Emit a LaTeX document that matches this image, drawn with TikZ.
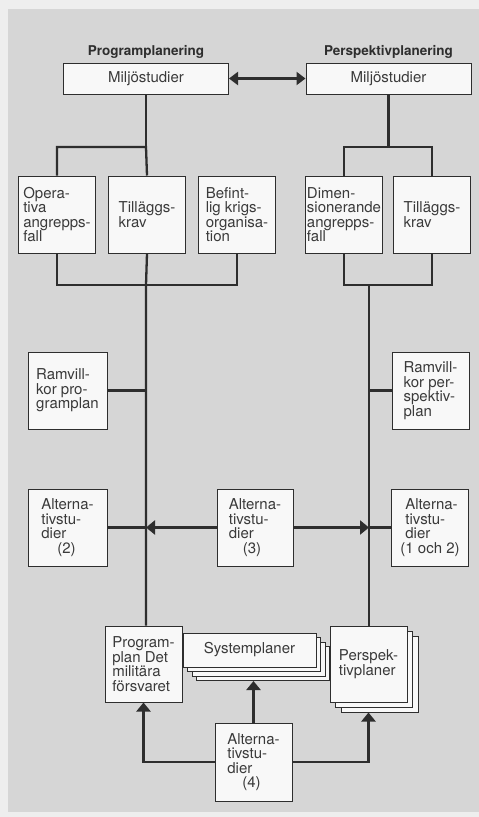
\documentclass[tikz,border=0pt]{standalone}
\usepackage{fontspec}
\setmainfont{TeX Gyre Heros}
\usetikzlibrary{arrows.meta, positioning}
\definecolor{pageBg}{HTML}{EEEEEE}
\definecolor{panelBg}{HTML}{D6D6D6}
\definecolor{boxFill}{HTML}{F8F8F8}
\definecolor{inkDark}{HTML}{2E2E2E}
\definecolor{inkText}{HTML}{3A3A3A}

\begin{document}
\begin{tikzpicture}[
    x=1pt, y=-1pt,
    node distance=12pt,
    box/.style={draw=inkDark, line width=1pt, fill=boxFill, text=inkText,
                minimum width=77pt, minimum height=77pt, inner sep=0pt,
                font=\fontsize{15}{14.5}\selectfont, align=left},
    widebox/.style={box, minimum width=165pt, minimum height=31pt},
    heading/.style={font=\fontsize{13.5}{14}\selectfont\bfseries,
                    text=inkDark, anchor=base},
    link/.style={draw=inkDark, line width=2.3pt},
    arrow/.style={link, -{Triangle[width=14pt,length=9pt]}},
    darrow/.style={link, {Triangle[width=13pt,length=9pt]}-{Triangle[width=13pt,length=9pt]}},
]
% Page and panel
\useasboundingbox (0,0) rectangle (479,817);
\fill[pageBg] (0,0) rectangle (479,817);
\fill[panelBg] (8,9) rectangle (479,812);

% Headings and environment studies
\node[heading] (headProg) at (146,55) {Programplanering};
\node[heading] (headPersp) at (388.5,55) {Perspektivplanering};
\node[widebox] (miljoProg) at (146,78.5) {Miljöstudier};
\node[widebox] (miljoPersp) at (388.5,78.5) {Miljöstudier};

% Input row
\node[box] (operativa) at (57,214.5) {Opera-\\tiva\\angrepps-\\fall};
\node[box, right=of operativa] (tillProg) {Tilläggs-\\krav};
\node[box, right=of tillProg] (befintlig) {Befint-\\lig krigs-\\organisa-\\tion};
\node[box] (dimens) at (344,214.5) {Dimen-\\sionerande\\angrepps-\\fall};
\node[box, right=10pt of dimens] (tillPersp) {Tilläggs-\\krav};

% Frame conditions
\node[box, minimum width=79pt] (ramProg) at (67.5,390.5) {Ramvill-\\kor pro-\\gramplan};
\node[box] (ramPersp) at (430.5,390.5) {Ramvill-\\kor per-\\spektiv-\\plan};

% Alternative studies
\node[box, minimum width=79pt] (alt2) at (67.5,527.5) {Alterna-\\tivstu-\\dier\\\hspace*{16pt}(2)};
\node[box, minimum width=76pt] (alt3) at (255,527.5) {Alterna-\\tivstu-\\dier\\\hspace*{14pt}(3)};
\node[box] (alt12) at (430,527.5) {\hspace*{5pt}Alterna-\\\hspace*{5pt}tivstu-\\\hspace*{5pt}dier\\(1 och 2)};

% Plans
\foreach \k in {3,2,1}
  \node[box, minimum width=133pt, minimum height=34pt] (sys\k) at (249.5+4.5*\k, 650+4.5*\k) {};
\node[box, minimum width=133pt, minimum height=34pt] (sys) at (249.5,650) {Systemplaner};
\foreach \k in {2,1}
  \node[box, minimum height=76pt] (persp\k) at (368.5+5.5*\k, 664+5*\k) {};
\node[box, minimum height=76pt] (persp) at (368.5,664) {Perspek-\\tivplaner};
\node[box, minimum height=76pt] (progplan) at (143.5,664) {Program-\\plan Det\\militära\\försvaret};
\node[box, minimum height=78pt] (alt4) at (253.5,762) {Alterna-\\tivstu-\\dier\\\hspace*{15pt}(4)};

% Junctions
\coordinate (topProg) at (146,147);
\coordinate (botProg) at (146,285);
\coordinate (topPersp) at (388.5,147);
\coordinate (botPersp) at (369,285);

% Connectors
\draw[darrow] (miljoProg.east) -- (miljoPersp.west);
\draw[link] (miljoProg.south) -- (topProg);
\draw[link] (operativa.north) |- (topProg) -- (tillProg.north);
\draw[link] (miljoPersp.south) -- (topPersp);
\draw[link] (dimens.north) |- (topPersp) -| (tillPersp.north);
\draw[link] (operativa.south) |- (botProg) -| (befintlig.south);
\draw[link] (tillProg.south) -- (botProg) -- (botProg |- progplan.north);
\draw[link] (dimens.south) |- (botPersp) -| (tillPersp.south);
\draw[link] (botPersp) -- (botPersp |- persp.north);
\draw[link] (ramProg.east) -- (ramProg.east -| botProg);
\draw[link] (ramPersp.west) -- (ramPersp.west -| botPersp);
\draw[link] (alt2.east) -- (alt2.east -| botProg);
\draw[arrow] (alt3.west) -- (alt3.west -| botProg);
\draw[arrow] (alt3.east) -- (alt3.east -| botPersp);
\draw[link] (alt12.west) -- (alt12.west -| botPersp);
\draw[arrow] (alt4.west) -| (progplan.south);
\draw[arrow] (alt4.north) -- (alt4.north |- sys3.south);
\draw[arrow] (alt4.east) -| (persp.south |- persp2.south);
\end{tikzpicture}
\end{document}
